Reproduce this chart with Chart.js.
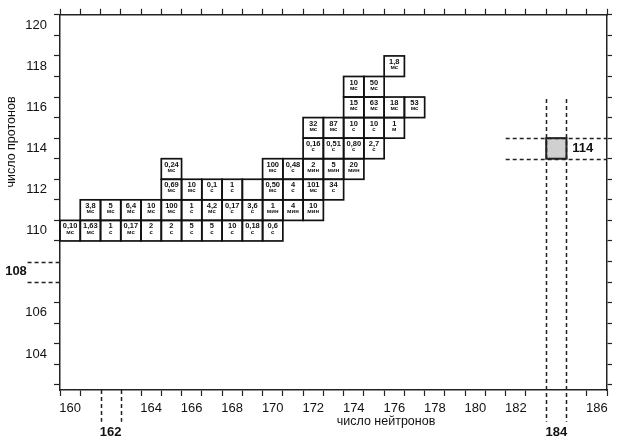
<!DOCTYPE html>
<html>
<head>
<meta charset="utf-8">
<script src="https://cdn.jsdelivr.net/npm/chart.js@4.4.1/dist/chart.umd.min.js"></script>
<style>
  html, body { margin: 0; padding: 0; background: #fff; }
</style>
</head>
<body>
<canvas id="plot" width="619" height="442"></canvas>
<script>
// известные изотопы сверхтяжёлых элементов: N, Z, период полураспада
const neutrons = [
  160, 161, 162, 163, 164, 165, 166, 167, 168, 169, 170,
  161, 162, 163, 164, 165, 166, 167, 168, 169, 170, 171, 172,
  165, 166, 167, 168, 169, 170, 171, 172, 173,
  165, 170, 171, 172, 173, 174,
  172, 173, 174, 175,
  172, 173, 174, 175, 176,
  174, 175, 176, 177,
  174, 175,
  176
];
const protons = [
  110, 110, 110, 110, 110, 110, 110, 110, 110, 110, 110,
  111, 111, 111, 111, 111, 111, 111, 111, 111, 111, 111, 111,
  112, 112, 112, 112, 112, 112, 112, 112, 112,
  113, 113, 113, 113, 113, 113,
  114, 114, 114, 114,
  115, 115, 115, 115, 115,
  116, 116, 116, 116,
  117, 117,
  118
];
const halfLife = [
  '0,10', '1,63', '1', '0,17', '2', '2', '5', '5', '10', '0,18', '0,6',
  '3,8', '5', '6,4', '10', '100', '1', '4,2', '0,17', '3,6', '1', '4', '10',
  '0,69', '10', '0,1', '1', '', '0,50', '4', '101', '34',
  '0,24', '100', '0,48', '2', '5', '20',
  '0,16', '0,51', '0,80', '2,7',
  '32', '87', '10', '10', '1',
  '15', '63', '18', '53',
  '10', '50',
  '1,8'
];
const halfLifeUnit = [
  'мс', 'мс', 'с', 'мс', 'с', 'с', 'с', 'с', 'с', 'с', 'с',
  'мс', 'мс', 'мс', 'мс', 'мс', 'с', 'мс', 'с', 'с', 'мин', 'мин', 'мин',
  'мс', 'мс', 'с', 'с', '', 'мс', 'с', 'мс', 'с',
  'мс', 'мс', 'с', 'мин', 'мин', 'мин',
  'с', 'с', 'с', 'с',
  'мс', 'мс', 'с', 'с', 'м',
  'мс', 'мс', 'мс', 'мс',
  'мс', 'мс',
  'мс'
];

// остров стабильности и магические числа
const islandN = [184];
const islandZ = [114];
const magicN = [162, 184];
const magicZ = [108, 114];

const xRange = [159.5, 186.5];
const yRange = [102.25, 120.5];
const xLabels = [160, 164, 166, 168, 170, 172, 174, 176, 178, 180, 182, 186];
const yLabels = [104, 106, 110, 112, 114, 116, 118, 120];
const xTitle = 'число нейтронов';
const yTitle = 'число протонов';

const FONT = '"Liberation Sans", Arial, sans-serif';

function halfTicks(lo, hi, withInts) {
  let out = [];
  for (let v = Math.ceil(lo * 2) / 2; v <= hi + 1e-9; v += 0.5) {
    if (withInts || !Number.isInteger(v)) out.push({ value: v });
  }
  return out;
}

function isHalf(v) { return Math.abs(v - Math.floor(v) - 0.5) < 1e-6; }

const nuclidePlugin = {
  id: 'nuclides',
  afterDatasetsDraw(chart) {
    const ctx = chart.ctx;
    const x = chart.scales.x, y = chart.scales.y;

    ctx.save();
    // island cell
    islandN.forEach((n, i) => {
      const z = islandZ[i];
      const l = x.getPixelForValue(n - 0.5), r = x.getPixelForValue(n + 0.5);
      const t = y.getPixelForValue(z + 0.5), b = y.getPixelForValue(z - 0.5);
      ctx.fillStyle = '#d0d0d0';
      ctx.fillRect(l, t, r - l, b - t);
      ctx.lineWidth = 2;
      ctx.strokeStyle = '#222';
      ctx.strokeRect(l, t, r - l, b - t);
    });

    // known isotopes
    ctx.lineWidth = 1.7;
    ctx.strokeStyle = '#111';
    ctx.fillStyle = '#111';
    ctx.textAlign = 'center';
    ctx.textBaseline = 'middle';
    neutrons.forEach((n, i) => {
      const z = protons[i];
      const l = x.getPixelForValue(n - 0.5), r = x.getPixelForValue(n + 0.5);
      const t = y.getPixelForValue(z + 0.5), b = y.getPixelForValue(z - 0.5);
      ctx.strokeRect(l, t, r - l, b - t);
      const cx = (l + r) / 2;
      ctx.font = 'bold 7.5px ' + FONT;
      ctx.fillText(halfLife[i], cx, t + 6);
      ctx.font = 'bold 6px ' + FONT;
      ctx.fillText(halfLifeUnit[i], cx, t + 11.5);
    });
    ctx.restore();
  },
  afterDraw(chart) {
    const ctx = chart.ctx;
    const x = chart.scales.x, y = chart.scales.y;
    const area = chart.chartArea;
    const below = y.getPixelForValue(100.7);

    ctx.save();
    ctx.strokeStyle = '#222';
    ctx.lineWidth = 1.5;
    ctx.setLineDash([4, 3]);
    // vertical dashed lines around magic N
    magicN.forEach(n => {
      const top = n === 184 ? y.getPixelForValue(116.4) : area.bottom;
      [n - 0.5, n + 0.5].forEach(v => {
        const px = Math.round(x.getPixelForValue(v)) + 0.5;
        ctx.beginPath();
        ctx.moveTo(px, top);
        ctx.lineTo(px, below);
        ctx.stroke();
      });
    });
    // horizontal dashed lines around magic Z
    magicZ.forEach(z => {
      const from = z === 114 ? x.getPixelForValue(181.5) : x.getPixelForValue(157.9);
      const to = z === 114 ? area.right : area.left;
      [z - 0.5, z + 0.5].forEach(v => {
        const py = Math.round(y.getPixelForValue(v)) + 0.5;
        ctx.beginPath();
        ctx.moveTo(from, py);
        ctx.lineTo(to, py);
        ctx.stroke();
      });
    });
    ctx.setLineDash([]);

    // bold magic number labels
    ctx.fillStyle = '#111';
    ctx.font = 'bold 13px ' + FONT;
    ctx.textAlign = 'center';
    ctx.textBaseline = 'middle';
    ctx.fillText(String(magicN[0]), x.getPixelForValue(magicN[0]), 432);
    ctx.fillText(String(magicN[1]), x.getPixelForValue(magicN[1]), 432);
    ctx.fillText(String(magicZ[0]), 16, y.getPixelForValue(magicZ[0]));
    ctx.fillText(String(magicZ[1]), x.getPixelForValue(185.3), y.getPixelForValue(magicZ[1]));

    // axis titles
    ctx.font = '12.5px ' + FONT;
    ctx.fillText(xTitle, 386, 422);
    ctx.translate(12, 142);
    ctx.rotate(-Math.PI / 2);
    ctx.fillText(yTitle, 0, 0);
    ctx.restore();
  }
};

const tickFont = { family: FONT, size: 13 };
const hiddenTicksX = [161.5, 162.5, 183.5, 184.5];
const hiddenTicksY = [107.5, 108.5];

new Chart(document.getElementById('plot'), {
  type: 'scatter',
  data: {
    datasets: [{
      label: 'isotopes',
      data: neutrons.map((n, i) => ({ x: n, y: protons[i] })),
      pointRadius: 0
    }]
  },
  options: {
    responsive: false,
    animation: false,
    layout: { padding: 0 },
    plugins: { legend: { display: false }, tooltip: { enabled: false } },
    scales: {
      x: {
        type: 'linear', position: 'bottom', min: xRange[0], max: xRange[1],
        afterBuildTicks: s => { s.ticks = halfTicks(xRange[0], xRange[1], true); },
        afterFit: s => { s.height = 52; },
        ticks: {
          autoSkip: false, maxRotation: 0, padding: 5, color: '#111', font: tickFont,
          callback: v => xLabels.includes(v) ? String(v) : ''
        },
        grid: {
          drawOnChartArea: false, tickLength: 6, tickWidth: 1.2,
          tickColor: c => (c.tick && isHalf(c.tick.value) && !hiddenTicksX.includes(c.tick.value)) ? '#222' : 'rgba(0,0,0,0)'
        },
        border: { color: '#222', width: 1.5 }
      },
      x2: {
        type: 'linear', position: 'top', min: xRange[0], max: xRange[1],
        afterBuildTicks: s => { s.ticks = halfTicks(xRange[0], xRange[1], false); },
        afterFit: s => { s.height = 12; },
        ticks: { display: false, autoSkip: false },
        grid: { drawOnChartArea: false, tickLength: 6, tickWidth: 1.2, tickColor: '#222' },
        border: { color: '#222', width: 1.5 }
      },
      y: {
        type: 'linear', position: 'left', min: yRange[0], max: yRange[1],
        afterBuildTicks: s => { s.ticks = halfTicks(yRange[0], yRange[1], true); },
        afterFit: s => { s.width = 60; },
        ticks: {
          autoSkip: false, padding: 7, color: '#111', font: tickFont,
          callback: v => yLabels.includes(v) ? String(v) : ''
        },
        grid: {
          drawOnChartArea: false, tickLength: 6, tickWidth: 1.2,
          tickColor: c => (c.tick && isHalf(c.tick.value) && !hiddenTicksY.includes(c.tick.value)) ? '#222' : 'rgba(0,0,0,0)'
        },
        border: { color: '#222', width: 1.5 }
      },
      y2: {
        type: 'linear', position: 'right', min: yRange[0], max: yRange[1],
        afterBuildTicks: s => { s.ticks = halfTicks(yRange[0], yRange[1], false); },
        afterFit: s => { s.width = 12; },
        ticks: { display: false, autoSkip: false },
        grid: { drawOnChartArea: false, tickLength: 5, tickWidth: 1.2, tickColor: '#222' },
        border: { color: '#222', width: 1.5 }
      }
    }
  },
  plugins: [nuclidePlugin]
});
</script>
</body>
</html>
